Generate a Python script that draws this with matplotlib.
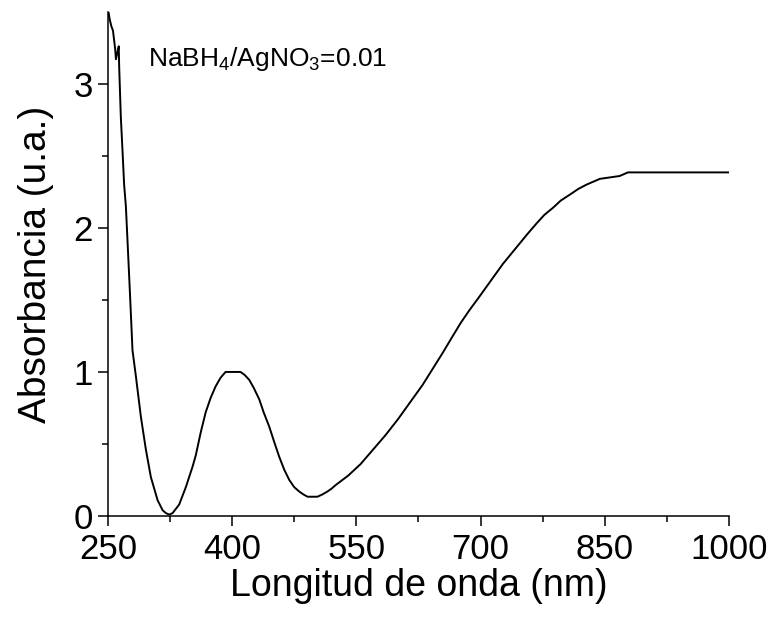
import numpy as np
import matplotlib.pyplot as plt

plt.rcParams['font.family'] = ['Liberation Sans', 'DejaVu Sans']
plt.rcParams['mathtext.fontset'] = 'custom'
plt.rcParams['mathtext.rm'] = 'Liberation Sans'
plt.rcParams['mathtext.it'] = 'Liberation Sans'

# wavelength (nm) and absorbance
wl = [250, 252, 254, 256, 258.7, 259.6, 261.5, 263, 263.5, 265.5, 267.5, 269.5,
      271.6, 273.5, 276.5, 279.6, 283.7, 289.7, 295.8, 301.8, 309.9, 316, 320,
      324, 328, 332, 336, 344, 352, 356, 362, 368, 374, 380, 386, 392, 401, 410,
      415, 420.6, 426, 432.7, 438, 444.8, 451, 456.9, 463, 469, 475, 481, 486,
      491, 497, 503, 509, 515, 520, 525, 540, 555, 570, 585, 600, 615, 630, 642,
      654, 666.5, 676, 686.7, 697, 707, 717, 727, 737, 747, 757, 767.5, 777,
      787.6, 797, 807.7, 818, 827.9, 836, 844, 856, 868, 878, 900, 950, 1000]
absorb = [3.52, 3.45, 3.40, 3.37, 3.24, 3.17, 3.22, 3.26, 3.12, 2.77, 2.54, 2.30,
          2.15, 1.92, 1.55, 1.15, 0.97, 0.69, 0.46, 0.27, 0.11, 0.04, 0.02,
          0.01, 0.02, 0.05, 0.08, 0.20, 0.34, 0.42, 0.58, 0.72, 0.82, 0.90, 0.96, 1.0, 1.0, 1.0,
          0.98, 0.945, 0.89, 0.81, 0.72, 0.62, 0.51, 0.41, 0.32, 0.25, 0.20, 0.17, 0.15,
          0.134, 0.134, 0.134, 0.15, 0.17, 0.19, 0.215, 0.28, 0.36, 0.46, 0.56, 0.67, 0.79, 0.91, 1.02,
          1.13, 1.25, 1.34, 1.43, 1.51, 1.59, 1.67, 1.75, 1.82, 1.89, 1.96, 2.03, 2.09,
          2.14, 2.19, 2.23, 2.27, 2.30, 2.32, 2.34, 2.35, 2.36, 2.385, 2.385, 2.385, 2.385]

x_ticks = [250, 400, 550, 700, 850, 1000]
x_minor = [325, 475, 625, 775, 925]
y_ticks = [0, 1, 2, 3]
y_minor = [0.5, 1.5, 2.5]

fig = plt.figure(figsize=(7.73, 6.18), dpi=100)
ax = fig.add_axes([0.1397, 0.165, 0.8033, 0.816])

ax.plot(wl, absorb, color='black', lw=1.4)

ax.set_xlim(250, 1000)
ax.set_ylim(0, 3.5)
ax.set_xticks(x_ticks)
ax.set_xticks(x_minor, minor=True)
ax.set_yticks(y_ticks)
ax.set_yticks(y_minor, minor=True)

for s in ['top', 'right']:
    ax.spines[s].set_visible(False)
for s in ['left', 'bottom']:
    ax.spines[s].set_linewidth(1.1)

ax.tick_params(which='major', direction='out', length=7, width=1.1, labelsize=25, pad=4)
ax.tick_params(axis='x', which='major', pad=5)
ax.tick_params(which='minor', direction='out', length=4, width=1.1)

ax.set_xlabel('Longitud de onda (nm)', fontsize=27, labelpad=2)
ax.set_ylabel('Absorbancia (u.a.)', fontsize=28, labelpad=14)

ax.text(298, 3.125, r'NaBH$_4$/AgNO$_3$=0.01', fontsize=19, va='baseline', ha='left')

fig.savefig('out.png', dpi=100)
